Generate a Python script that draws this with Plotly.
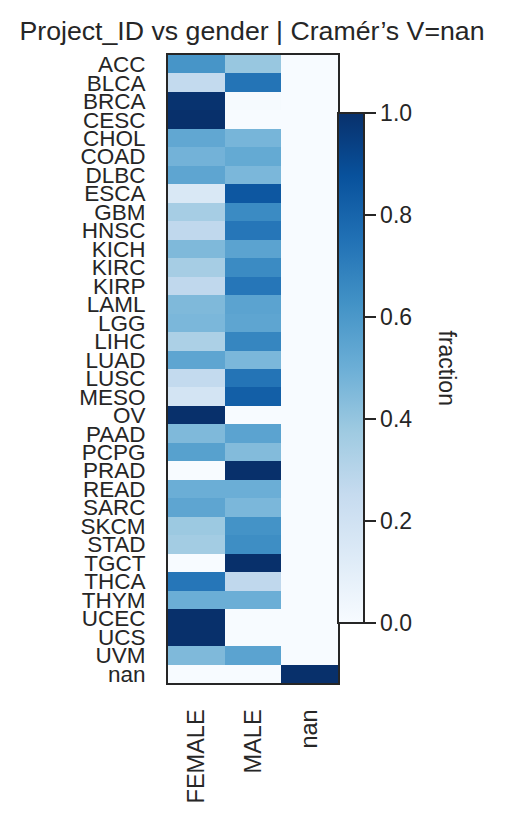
import plotly.graph_objects as go

projects = ["ACC", "BLCA", "BRCA", "CESC", "CHOL", "COAD", "DLBC", "ESCA", "GBM", "HNSC",
            "KICH", "KIRC", "KIRP", "LAML", "LGG", "LIHC", "LUAD", "LUSC", "MESO", "OV",
            "PAAD", "PCPG", "PRAD", "READ", "SARC", "SKCM", "STAD", "TGCT", "THCA", "THYM",
            "UCEC", "UCS", "UVM", "nan"]
genders = ["FEMALE", "MALE", "nan"]

female = [0.61, 0.26, 0.99, 1.00, 0.53, 0.48, 0.54, 0.15, 0.35, 0.27,
          0.45, 0.35, 0.27, 0.45, 0.46, 0.33, 0.54, 0.26, 0.18, 1.00,
          0.45, 0.56, 0.00, 0.50, 0.54, 0.38, 0.36, 0.00, 0.73, 0.50,
          1.00, 1.00, 0.45, 0.00]
male = [0.39, 0.74, 0.01, 0.00, 0.47, 0.52, 0.46, 0.85, 0.65, 0.73,
        0.55, 0.65, 0.73, 0.55, 0.54, 0.67, 0.46, 0.74, 0.82, 0.00,
        0.55, 0.44, 1.00, 0.50, 0.46, 0.62, 0.64, 1.00, 0.27, 0.50,
        0.00, 0.00, 0.55, 0.00]
missing = [0.0] * 33 + [1.0]

z = [[f, m, n] for f, m, n in zip(female, male, missing)]

blues = [[0.0, "rgb(247,251,255)"], [0.125, "rgb(222,235,247)"], [0.25, "rgb(198,219,239)"],
         [0.375, "rgb(158,202,225)"], [0.5, "rgb(107,174,214)"], [0.625, "rgb(66,146,198)"],
         [0.75, "rgb(33,113,181)"], [0.875, "rgb(8,81,156)"], [1.0, "rgb(8,48,107)"]]

dark = "#262626"
FONT = "Liberation Sans, Arial, sans-serif"

# page has an 8px body margin; figure sized to fit the window
W, H = 497, 815
L, R, T, B = 160, 167, 47, 140
plot_h = H - T - B
cb_center = (H - B - (367.5 - 8)) / plot_h

fig = go.Figure(go.Heatmap(
    z=z, x=genders, y=projects, colorscale=blues, zmin=0, zmax=1,
    colorbar=dict(
        x=1.0, xanchor="left", xpad=0, xref="paper",
        y=cb_center, yanchor="middle", ypad=0,
        len=510 / plot_h, lenmode="fraction",
        thickness=26, outlinewidth=2, outlinecolor=dark,
        ticks="outside", ticklen=11, tickwidth=2, tickcolor=dark,
        tickvals=[0, 0.2, 0.4, 0.6, 0.8, 1.0], ticktext=["0.0", "0.2", "0.4", "0.6", "0.8", "1.0"],
        tickfont=dict(size=23, color=dark, family=FONT),
    ),
))

fig.update_layout(
    width=W, height=H,
    margin=dict(l=L, r=R, t=T, b=B),
    paper_bgcolor="white", plot_bgcolor="white",
    font=dict(family=FONT, color=dark),
    title=dict(text="Project_ID vs gender | Cramér’s V=nan", x=(252 - 8) / W, xanchor="center",
               xref="container", y=1 - 23 / H, yanchor="middle", yref="container",
               font=dict(size=26.7, color=dark, family=FONT)),
    annotations=[dict(text="fraction", textangle=90, xref="paper", yref="paper",
                      x=1 + (447 - 338) / (W - L - R), y=cb_center,
                      xanchor="center", yanchor="middle", showarrow=False,
                      font=dict(size=23, color=dark, family=FONT))],
)
fig.update_xaxes(showline=True, mirror=True, linecolor=dark, linewidth=2, ticks="",
                 tickangle=-90, ticklabelstandoff=15, tickfont=dict(size=23.5, color=dark),
                 tickmode="array", tickvals=genders,
                 showgrid=False, zeroline=False)
fig.update_yaxes(showline=True, mirror=True, linecolor=dark, linewidth=2, ticks="",
                 autorange="reversed", ticklabelstandoff=16, tickfont=dict(size=22.5, color=dark),
                 tickmode="array", tickvals=projects,
                 showgrid=False, zeroline=False)

fig.write_html("out.html")
